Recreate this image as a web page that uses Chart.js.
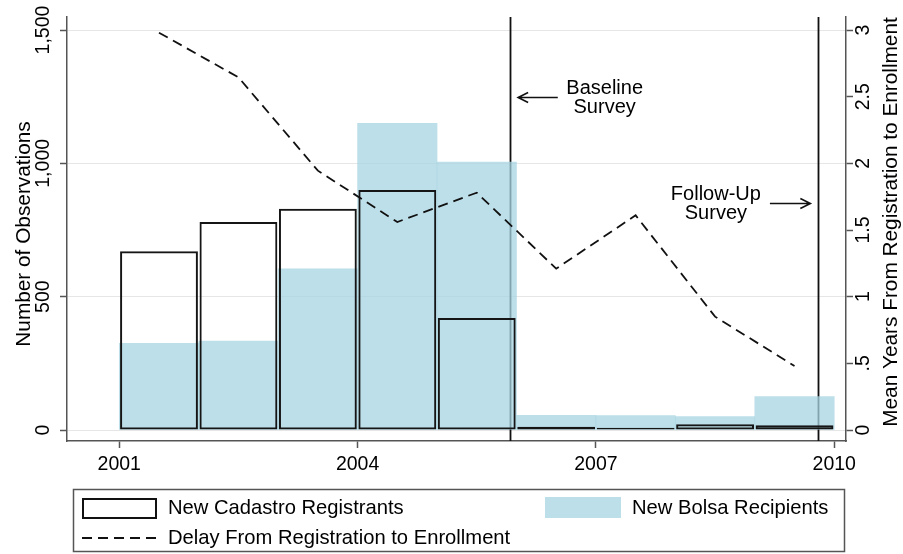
<!DOCTYPE html>
<html>
<head>
<meta charset="utf-8">
<script src="https://cdn.jsdelivr.net/npm/chart.js@4.4.1/dist/chart.umd.min.js"></script>
<style>
  html, body { margin: 0; padding: 0; background: #ffffff; }
  #wrap { width: 903px; height: 554px; position: relative; }
</style>
</head>
<body>
<div id="wrap"><canvas id="chart"></canvas></div>
<script>
// Yearly bins (bar centres) and the three series
const binCentres = [2001.5, 2002.5, 2003.5, 2004.5, 2005.5, 2006.5, 2007.5, 2008.5, 2009.5];
const cadastroRegistrants = [670, 780, 830, 900, 420, 12, 8, 22, 18];
const bolsaRecipients = [325, 333, 604, 1150, 1005, 55, 54, 50, 125];
const meanDelayYears = [2.98, 2.645, 1.945, 1.56, 1.78, 1.21, 1.61, 0.85, 0.48];

// Axis ticks and their labels
const yearTicks = [2001, 2004, 2007, 2010];
const countTicks = [0, 500, 1000, 1500];
const countTickLabels = ['0', '500', '1,000', '1,500'];
const delayTicks = [0, 0.5, 1, 1.5, 2, 2.5, 3];
const delayTickLabels = ['0', '.5', '1', '1.5', '2', '2.5', '3'];

// Survey dates marked with vertical lines
const baselineSurvey = 2005.92;
const followUpSurvey = 2009.80;

const FONT = '"Liberation Sans", Arial, Helvetica, sans-serif';
const AXIS = '#555555';
const GRID = '#e6e6e6';
const BOLSA_FILL = 'rgba(167,212,226,0.75)';
const BOLSA_SWATCH = 'rgb(189,223,233)';

const toPoints = (xs, ys) => xs.map((x, i) => ({ x: x, y: ys[i] }));

// Vertical survey lines sit under the bars
const surveyLines = {
  id: 'surveyLines',
  beforeDatasetsDraw(chart) {
    const { ctx, chartArea, scales } = chart;
    ctx.save();
    ctx.strokeStyle = '#111111';
    ctx.lineWidth = 1.8;
    [baselineSurvey, followUpSurvey].forEach(v => {
      const px = Math.round(scales.x.getPixelForValue(v)) + 0.5;
      ctx.beginPath();
      ctx.moveTo(px, chartArea.top);
      ctx.lineTo(px, chartArea.bottom);
      ctx.stroke();
    });
    ctx.restore();
  }
};

function rotatedText(ctx, text, x, y) {
  ctx.save();
  ctx.translate(x, y);
  ctx.rotate(-Math.PI / 2);
  ctx.textAlign = 'center';
  ctx.textBaseline = 'alphabetic';
  ctx.fillText(text, 0, 0);
  ctx.restore();
}

function arrow(ctx, x1, x2, y) {
  // line from x1 to tip x2 with an open head
  const dir = x2 > x1 ? 1 : -1;
  ctx.beginPath();
  ctx.moveTo(x1, y);
  ctx.lineTo(x2, y);
  ctx.moveTo(x2 - dir * 10, y - 5);
  ctx.lineTo(x2, y);
  ctx.lineTo(x2 - dir * 10, y + 5);
  ctx.stroke();
}

// Tick labels, axis titles, survey notes and the legend
const decorations = {
  id: 'decorations',
  afterDraw(chart) {
    const { ctx, scales } = chart;
    const x = scales.x, y = scales.y, y1 = scales.y1;
    ctx.save();
    ctx.fillStyle = '#000000';

    // x tick labels
    ctx.font = '19.5px ' + FONT;
    ctx.textAlign = 'center';
    ctx.textBaseline = 'alphabetic';
    yearTicks.forEach(t => ctx.fillText(String(t), x.getPixelForValue(t), 470));

    // left tick labels
    countTicks.forEach((t, i) => rotatedText(ctx, countTickLabels[i], 49, y.getPixelForValue(t)));
    // right tick labels
    delayTicks.forEach((t, i) => rotatedText(ctx, delayTickLabels[i], 869, y1.getPixelForValue(t)));

    // axis titles
    ctx.font = '20.8px ' + FONT;
    rotatedText(ctx, 'Number of Observations', 30, 234);
    rotatedText(ctx, 'Mean Years From Registration to Enrollment', 897, 222);

    // survey notes
    ctx.font = '20px ' + FONT;
    ctx.textAlign = 'center';
    ctx.textBaseline = 'middle';
    const bx = x.getPixelForValue(2007.11);
    ctx.fillText('Baseline', bx, 88);
    ctx.fillText('Survey', bx, 107);
    const fx = x.getPixelForValue(2008.51);
    ctx.fillText('Follow-Up', fx, 194);
    ctx.fillText('Survey', fx, 213);

    ctx.strokeStyle = '#111111';
    ctx.lineWidth = 1.6;
    arrow(ctx, x.getPixelForValue(2006.52), x.getPixelForValue(baselineSurvey) + 8, 97.5);
    arrow(ctx, x.getPixelForValue(2009.19), x.getPixelForValue(followUpSurvey) - 8, 203.5);

    // legend frame
    ctx.strokeStyle = AXIS;
    ctx.lineWidth = 1.5;
    ctx.strokeRect(73.5, 489.5, 771, 62);

    // legend keys
    ctx.strokeStyle = '#111111';
    ctx.lineWidth = 2;
    ctx.strokeRect(83, 499, 73, 19);

    ctx.fillStyle = BOLSA_SWATCH;
    ctx.fillRect(545, 497, 76, 21);

    ctx.setLineDash([10, 6]);
    ctx.lineWidth = 1.8;
    ctx.beginPath();
    ctx.moveTo(82, 538);
    ctx.lineTo(158, 538);
    ctx.stroke();
    ctx.setLineDash([]);

    ctx.fillStyle = '#000000';
    ctx.font = '20.2px ' + FONT;
    ctx.textAlign = 'left';
    ctx.textBaseline = 'alphabetic';
    ctx.fillText('New Cadastro Registrants', 168, 514);
    ctx.fillText('New Bolsa Recipients', 632, 514);
    ctx.fillText('Delay From Registration to Enrollment', 168, 544);

    ctx.restore();
  }
};

const axisGrid = (onArea) => ({
  drawOnChartArea: onArea,
  drawTicks: true,
  tickLength: 7,
  tickColor: AXIS,
  tickWidth: 1.5,
  color: GRID,
  lineWidth: 1,
  offset: false
});

new Chart(document.getElementById('chart'), {
  type: 'bar',
  data: {
    datasets: [
      {
        type: 'line',
        label: 'Delay From Registration to Enrollment',
        data: toPoints(binCentres, meanDelayYears),
        yAxisID: 'y1',
        borderColor: '#111111',
        borderWidth: 1.8,
        borderDash: [10, 6],
        pointRadius: 0,
        fill: false,
        tension: 0,
        order: 0
      },
      {
        label: 'New Cadastro Registrants',
        data: toPoints(binCentres, cadastroRegistrants),
        yAxisID: 'y',
        backgroundColor: 'rgba(0,0,0,0)',
        borderColor: '#151515',
        borderWidth: 2,
        borderSkipped: false,
        barPercentage: 0.98,
        categoryPercentage: 1,
        grouped: false,
        order: 1
      },
      {
        label: 'New Bolsa Recipients',
        data: toPoints(binCentres, bolsaRecipients),
        yAxisID: 'y',
        backgroundColor: BOLSA_FILL,
        borderWidth: 0,
        barPercentage: 1,
        categoryPercentage: 1,
        grouped: false,
        order: 2
      }
    ]
  },
  options: {
    responsive: true,
    maintainAspectRatio: false,
    animation: false,
    devicePixelRatio: 1,
    layout: { padding: { top: 17, bottom: 83, left: 0, right: 0 } },
    plugins: { legend: { display: false }, tooltip: { enabled: false } },
    scales: {
      x: {
        type: 'linear',
        min: 2000.342,
        max: 2010.148,
        offset: false,
        afterBuildTicks: s => { s.ticks = yearTicks.map(v => ({ value: v })); },
        afterFit: s => { s.height = 30; },
        ticks: { display: false },
        grid: axisGrid(false),
        border: { display: true, color: AXIS, width: 1.5 }
      },
      y: {
        position: 'left',
        min: -41.25,
        max: 1548.75,
        beginAtZero: false,
        afterBuildTicks: s => { s.ticks = countTicks.map(v => ({ value: v })); },
        afterFit: s => { s.width = 67; },
        ticks: { display: false },
        grid: axisGrid(true),
        border: { display: true, color: AXIS, width: 1.5 }
      },
      y1: {
        position: 'right',
        min: -0.0825,
        max: 3.0975,
        beginAtZero: false,
        afterBuildTicks: s => { s.ticks = delayTicks.map(v => ({ value: v })); },
        afterFit: s => { s.width = 57; },
        ticks: { display: false },
        grid: axisGrid(false),
        border: { display: true, color: AXIS, width: 1.5 }
      }
    }
  },
  plugins: [surveyLines, decorations]
});
</script>
</body>
</html>
